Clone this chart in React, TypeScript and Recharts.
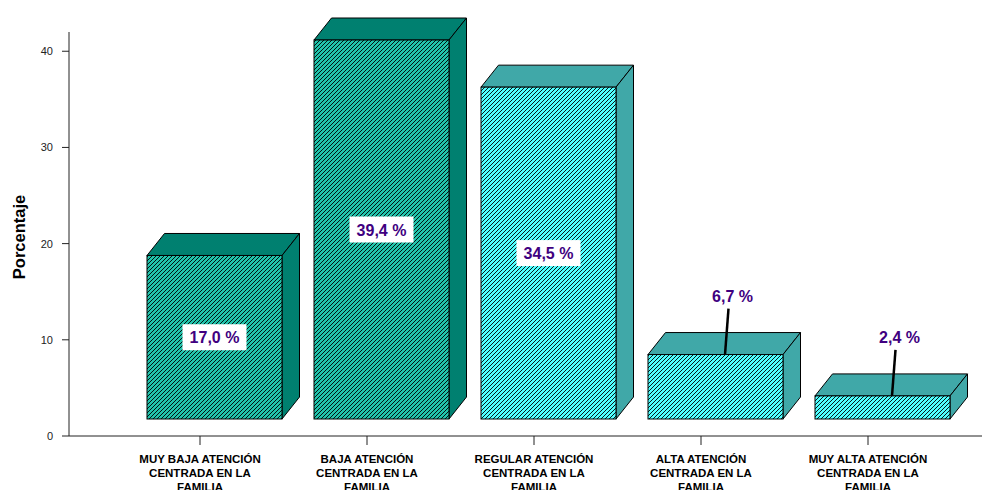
import React from 'react';
import { BarChart, Bar, XAxis, YAxis, LabelList } from 'recharts';

const categories = [
  'MUY BAJA ATENCIÓN CENTRADA EN LA FAMILIA',
  'BAJA ATENCIÓN CENTRADA EN LA FAMILIA',
  'REGULAR ATENCIÓN CENTRADA EN LA FAMILIA',
  'ALTA ATENCIÓN CENTRADA EN LA FAMILIA',
  'MUY ALTA ATENCIÓN CENTRADA EN LA FAMILIA',
];
const percentages = [17.0, 39.4, 34.5, 6.7, 2.4];
const yTicks = [0, 10, 20, 30, 40];

const data = categories.map((c, i) => ({ category: c, value: percentages[i] }));

const FONT = '"Liberation Sans", Arial, sans-serif';
const FRONT_FILLS = ['url(#hatchDark)', 'url(#hatchDark)', 'url(#hatchLight)', 'url(#hatchLight)', 'url(#hatchLight)'];
const SIDE_FILLS = ['#008070', '#008070', '#40a8a8', '#40a8a8', '#40a8a8'];
const DX = 17.5;
const DY = 22;
const LIFT = 17;
const SHIFT = 14.5;

const Box3D = (props: any) => {
  const { x, y, width, height, index } = props;
  const fx = x + SHIFT;
  const ft = y - LIFT;
  const fb = y + height - LIFT;
  const w = width;
  const side = SIDE_FILLS[index];
  return (
    <g>
      <polygon
        points={`${fx},${ft} ${fx + DX},${ft - DY} ${fx + w + DX},${ft - DY} ${fx + w},${ft}`}
        fill={side}
        stroke="#000"
        strokeWidth={1}
      />
      <polygon
        points={`${fx + w},${ft} ${fx + w + DX},${ft - DY} ${fx + w + DX},${fb - DY} ${fx + w},${fb}`}
        fill={side}
        stroke="#000"
        strokeWidth={1}
      />
      <rect x={fx} y={ft} width={w} height={fb - ft} fill={FRONT_FILLS[index]} stroke="#000" strokeWidth={1} />
    </g>
  );
};

const renderLabel = (props: any) => {
  const { x, y, width, height, value } = props;
  const fx = x + SHIFT;
  const ft = y - LIFT;
  const fb = y + height - LIFT;
  const cx = fx + width / 2;
  const txt = Number(value).toFixed(1).replace('.', ',') + ' %';
  if (value > 10) {
    const cy = (ft + fb) / 2;
    return (
      <g>
        <rect x={cx - 32} y={cy - 13} width={64} height={26} fill="#fff" />
        <text x={cx} y={cy + 6} textAnchor="middle" fontSize={16} fontWeight="bold" fill="#400080" fontFamily={FONT}>
          {txt}
        </text>
      </g>
    );
  }
  return (
    <g>
      <line x1={cx + 9.5} y1={ft} x2={cx + 13} y2={ft - 46} stroke="#000" strokeWidth={2.5} />
      <text x={cx + 17} y={ft - 53} textAnchor="middle" fontSize={16} fontWeight="bold" fill="#400080" fontFamily={FONT}>
        {txt}
      </text>
    </g>
  );
};

const XTick = (props: any) => {
  const { x, y, payload } = props;
  const lines = String(payload.value)
    .replace(' CENTRADA', '\nCENTRADA')
    .replace(' FAMILIA', '\nFAMILIA')
    .split('\n');
  return (
    <text x={x} y={y} textAnchor="middle" fontSize={11.5} fontWeight="bold" fill="#000" fontFamily={FONT}>
      {lines.map((l, i) => (
        <tspan key={i} x={x} dy={i === 0 ? 16 : 14}>
          {l}
        </tspan>
      ))}
    </text>
  );
};

const YLabel = () => (
  <text
    x={18.5}
    y={237}
    transform="rotate(-90, 18.5, 237)"
    textAnchor="middle"
    dominantBaseline="central"
    fontSize={16.5}
    fontWeight="bold"
    fill="#000"
    fontFamily={FONT}
  >
    Porcentaje
  </text>
);

export default function App() {
  return (
    <div style={{ position: 'absolute', left: 0, top: 0, background: '#fff' }}>
      <BarChart width={982} height={490} data={data} margin={{ top: 32, right: 0, bottom: 0, left: 0 }}>
        <defs>
          <pattern id="hatchDark" patternUnits="userSpaceOnUse" width="4" height="4">
            <rect width="4" height="4" fill="#22c4ac" />
            <path d="M-1,1 l2,-2 M0,4 l4,-4 M3,5 l2,-2" stroke="#000" strokeWidth="0.9" />
          </pattern>
          <pattern id="hatchLight" patternUnits="userSpaceOnUse" width="4" height="4">
            <rect width="4" height="4" fill="#50ffff" />
            <path d="M-1,1 l2,-2 M0,4 l4,-4 M3,5 l2,-2" stroke="#000" strokeWidth="0.9" />
          </pattern>
        </defs>
        <XAxis
          dataKey="category"
          interval={0}
          padding={{ left: 47.5, right: 30.5 }}
          tickSize={9}
          tickMargin={2}
          height={54}
          axisLine={{ stroke: '#222' }}
          tickLine={{ stroke: '#222' }}
          tick={<XTick />}
        />
        <YAxis
          domain={[0, 42]}
          ticks={yTicks}
          width={69}
          tickSize={7}
          tickMargin={9}
          axisLine={{ stroke: '#222' }}
          tickLine={{ stroke: '#222' }}
          tick={{ fontSize: 11, fill: '#222', fontFamily: FONT }}
          label={{ content: () => <YLabel /> }}
        />
        <Bar dataKey="value" barSize={135} shape={<Box3D />} isAnimationActive={false}>
          <LabelList dataKey="value" content={renderLabel} />
        </Bar>
      </BarChart>
    </div>
  );
}
